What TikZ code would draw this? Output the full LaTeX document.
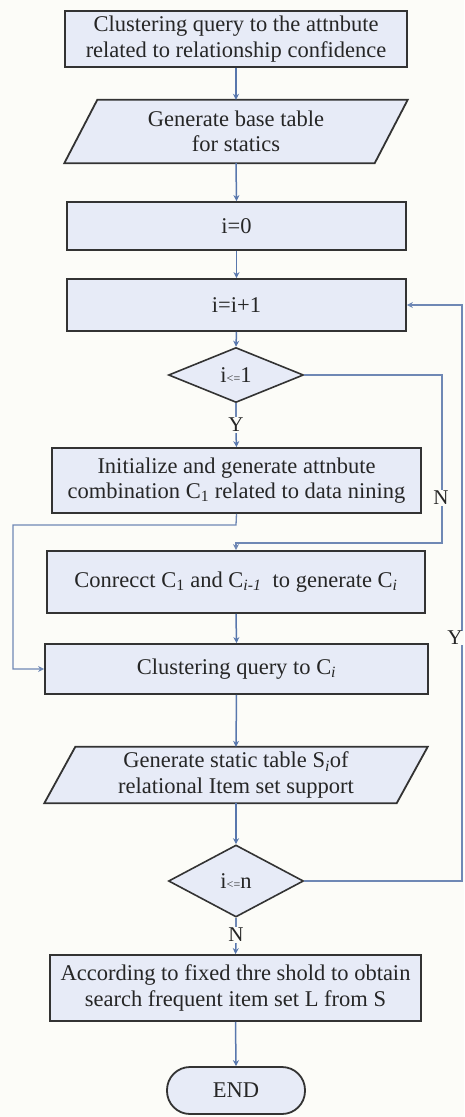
\documentclass[tikz,border=0pt]{standalone}
\usepackage{fontspec}
\setmainfont{Liberation Serif}
\usetikzlibrary{shapes.geometric,arrows.meta}
\definecolor{boxfill}{HTML}{E7EBF7}
\definecolor{boxline}{HTML}{333333}
\definecolor{flow}{HTML}{5877AD}
\definecolor{loopline}{HTML}{6F88B5}
\definecolor{ink}{HTML}{262626}
\definecolor{paper}{HTML}{FCFCF8}
\tikzset{
  procbox/.style={draw=boxline, line width=1.8pt, fill=boxfill, text=ink,
    inner sep=0pt, align=center, font=\fontsize{22.5}{25.5}\selectfont},
  iobody/.style={inner sep=0pt, align=center, text=ink, font=\fontsize{22.5}{25.5}\selectfont},
  ioshape/.style={draw=boxline, line width=1.8pt, fill=boxfill, line join=miter},
  decide/.style={diamond, draw=boxline, line width=1.6pt, fill=boxfill, text=ink,
    inner sep=0pt, font=\fontsize{22.5}{25}\selectfont},
  term/.style={draw=boxline, line width=1.8pt, fill=boxfill, text=ink,
    inner sep=0pt, font=\fontsize{22.5}{25}\selectfont},
  flowarrow/.style={draw=flow, line width=1.5pt, -{Stealth[length=6pt,width=6pt]}},
  loopflow/.style={draw=loopline, line width=1.3pt, -{Stealth[length=6pt,width=6pt]}},
  loopnoarrow/.style={draw=loopline, line width=1.3pt},
  branch/.style={text=ink, font=\fontsize{21}{24}\selectfont, inner sep=1pt},
}
\newcommand{\lesym}{{\fontsize{12}{14}\selectfont<=}}
\begin{document}
\begin{tikzpicture}[x=1pt,y=-1pt]
\useasboundingbox (0,0) rectangle (464,1117);
\fill[paper] (0,0) rectangle (464,1117);

% main column of steps
\node[procbox, minimum width=342pt, minimum height=56pt] (cq) at (236,39)
  {Clustering query to the attnbute\\related to relationship confidence};

\node[iobody, minimum width=310pt, minimum height=63pt] (base) at (236,131.5)
  {Generate base table\\for statics};
\path[ioshape] ([xshift=16.5pt]base.north west) -- ([xshift=16.5pt]base.north east)
  -- ([xshift=-16.5pt]base.south east) -- ([xshift=-16.5pt]base.south west) -- cycle;
\node[iobody] at (base.center) {Generate base table\\for statics};

\node[procbox, minimum width=339pt, minimum height=48pt] (init) at (236.5,226) {i=0};
\node[procbox, minimum width=339pt, minimum height=52pt] (inc) at (236.5,305) {i=i+1};
\node[decide, minimum width=135pt, minimum height=55pt] (d1) at (236,375) {i\lesym1};
\node[branch] (yes1) at (236,425) {Y};

\node[procbox, minimum width=369pt, minimum height=65pt] (gen) at (236.5,480.5)
  {Initialize and generate attnbute\\combination C\textsubscript{1} related to data nining};
\node[procbox, minimum width=378pt, minimum height=62pt] (join) at (236,582)
  {Conrecct C\textsubscript{1} and C\textsubscript{\itshape i-1}\ \ to generate C\textsubscript{\itshape i}};
\node[procbox, minimum width=383pt, minimum height=50pt] (cqi) at (236.5,669)
  {Clustering query to C\textsubscript{\itshape i}};

\node[iobody, minimum width=352pt, minimum height=56pt] (stat) at (236,775)
  {Generate static table S\textsubscript{\itshape i}of\\relational Item set support};
\path[ioshape] ([xshift=15.5pt]stat.north west) -- ([xshift=15.5pt]stat.north east)
  -- ([xshift=-15.5pt]stat.south east) -- ([xshift=-15.5pt]stat.south west) -- cycle;
\node[iobody] at (stat.center)
  {Generate static table S\textsubscript{\itshape i}of\\relational Item set support};

\node[decide, minimum width=135pt, minimum height=72pt] (d2) at (236,881) {i\lesym n};
\node[branch] (no2) at (236,935) {N};

\node[procbox, minimum width=371pt, minimum height=66pt] (freq) at (235.5,988)
  {According to fixed thre shold to obtain\\search frequent item set L from S};
\node[term, rounded corners=23pt, minimum width=138pt, minimum height=47pt] (end) at (236,1090.5) {END};

% straight flow
\draw[flowarrow] (cq.south) -- (base.north);
\draw[flowarrow] (base.south) -- (init.north);
\draw[flowarrow] (init.south) -- (inc.north);
\draw[flowarrow] (inc.south) -- (d1.north);
\draw[loopnoarrow] (d1.south) -- (yes1.north);
\draw[flowarrow] (yes1.south) -- (gen.north);
\draw[flowarrow] (join.south) -- (cqi.north);
\draw[flowarrow] (cqi.south) -- (stat.north);
\draw[flowarrow] (stat.south) -- (d2.north);
\draw[loopnoarrow] (d2.south) -- (no2.north);
\draw[flowarrow] (no2.south) -- (freq.north);
\draw[flowarrow] (freq.south) -- (end.north);

% branch N of the first test
\coordinate (nturn) at (442,375);
\coordinate (ndrop) at (442,543);
\draw[loopflow] (d1.east) -- (nturn) -- (ndrop) -- (ndrop -| join.north) -- (join.north);
\node[branch, fill=paper] (no1) at (441,498) {N};

% bypass from the first combination straight to the query
\coordinate (bypass) at (236,525);
\coordinate (bleft) at (13,525);
\draw[loopflow] (gen.south) -- (bypass) -- (bleft) -- (bleft |- cqi.west) -- (cqi.west);

% branch Y of the second test back to the counter
\coordinate (yturn) at (462,881);
\coordinate (yrise) at (462,305);
\draw[loopflow] (d2.east) -- (yturn) -- (yrise) -- (inc.east);
\node[branch, fill=paper, inner sep=0pt] (yes2) at (455,638) {Y};
\end{tikzpicture}
\end{document}
